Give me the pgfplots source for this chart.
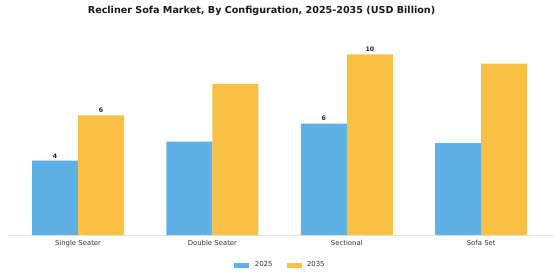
\documentclass[border=0pt]{standalone}
\usepackage{fontspec}
\setmainfont{DejaVu Sans}
\usepackage{pgfplots}
\pgfplotsset{compat=1.18}
\definecolor{cblue}{HTML}{5DB1E6}
\definecolor{cyellow}{HTML}{F8C146}
\begin{document}
\begin{tikzpicture}
\useasboundingbox (-8pt,-45pt) rectangle (552pt,235pt);
\begin{axis}[
  at={(0pt,0pt)}, anchor=south west,
  scale only axis, width=545pt, height=198.8pt,
  xmin=-0.521, xmax=3.534, ymin=0, ymax=11,
  ybar=0pt, bar width=46pt,
  axis y line=none, axis x line=bottom,
  x axis line style={draw=gray!25, -},
  xtick={0,1,2,3},
  xticklabels={Single Seater, Double Seater, Sectional, Sofa Set},
  xtick style={draw=none},
  xticklabel style={font=\fontsize{6.9}{7.5}\selectfont, text=black!80},
  point meta=explicit symbolic,
  nodes near coords={\pgfplotspointmeta},
  every node near coord/.append style={font=\bfseries\fontsize{6.2}{7}\selectfont, text=black!85, inner sep=2.5pt},
  legend columns=2,
  legend style={at={(0.5,-0.151)}, anchor=center, draw=none, font=\fontsize{6.9}{7.5}\selectfont, text=black!80,
    /tikz/every odd column/.append style={column sep=3.5pt},
    /tikz/every even column/.append style={column sep=12pt}},
  legend image code/.code={\fill[#1] (0pt,-2.5pt) rectangle (15pt,2.5pt);},
]
\addplot[fill=cblue, draw=none] coordinates {(0,4.11) [4] (1,5.16) [] (2,6.16) [6] (3,5.09) []};
\addplot[fill=cyellow, draw=none] coordinates {(0,6.62) [6] (1,8.36) [] (2,10.0) [10] (3,9.48) []};
\legend{2025, 2035}
\end{axis}
\node[font=\bfseries\fontsize{9.6}{11}\selectfont, text=black!90] at (253.5pt,224pt) {Recliner Sofa Market, By Configuration, 2025-2035 (USD Billion)};
\end{tikzpicture}
\end{document}
